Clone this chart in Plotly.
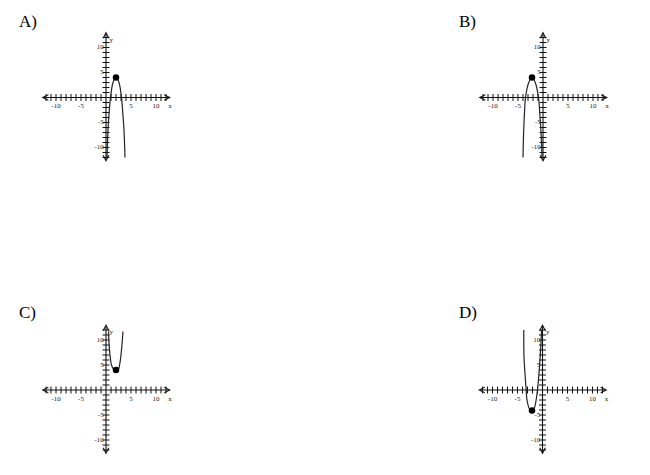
import plotly.graph_objects as go

# ---------------- data ----------------
PANEL_LABELS = ["A)", "B)", "C)", "D)"]

AXIS_TICKS = [-12, -11, -10, -9, -8, -7, -6, -5, -4, -3, -2, -1,
              1, 2, 3, 4, 5, 6, 7, 8, 9, 10, 11, 12]
TICK_LABEL_VALUES = [-10, -5, 5, 10]
TICK_LABEL_TEXT = ["-10", "-5", "5", "10"]

A_X = [0.2, 0.3, 0.45, 0.9, 1.4, 2.0, 2.6, 3.1, 3.35, 3.6, 3.8]
A_Y = [-12, -9, -5.5, 0, 3, 4, 3, 0, -3, -6.5, -12]
A_VERTEX = [2, 4]

B_X = [-4.0, -3.9, -3.75, -3.5, -2.85, -2.2, -1.55, -0.9, -0.65, -0.45, -0.3, -0.2]
B_Y = [-12, -7.7, -4, 0, 3, 4, 3, 0, -3, -6, -9, -12]
B_VERTEX = [-2.2, 4]

C_X = [0.5, 0.6, 0.8, 1.1, 1.5, 2.0, 2.5, 2.8, 3.1, 3.4]
C_Y = [11.7, 9.5, 7, 5, 4.2, 4, 4.2, 5.5, 8, 11.7]
C_VERTEX = [2, 4]

D_X = [-3.75, -3.7, -3.55, -3.3, -3.1, -2.6, -2.1, -1.6, -1.2, -1.0, -0.6, -0.35, -0.2]
D_Y = [12, 6.5, 4, 0.5, -2, -3.8, -4.1, -3.5, -1.5, 0, 4.7, 8.5, 12]
D_VERTEX = [-2.1, -4.1]

CURVES = [(A_X, A_Y, A_VERTEX), (B_X, B_Y, B_VERTEX),
          (C_X, C_Y, C_VERTEX), (D_X, D_Y, D_VERTEX)]

# ---------------- layout constants ----------------
W, H = 650, 475
PX_PER_UNIT = 5.0
HALF = 14  # axis range half-width in units
# origin pixel positions (x, y from top) of each panel
ORIGINS = [(106, 97.5), (543, 97.5), (106, 390), (542.5, 390)]
LABEL_POS = [(17, 21), (457, 21), (17, 312), (457, 312)]

INK = "#111111"
LABEL_INK = "#222222"
SERIF = "Liberation Serif, Times New Roman, serif"

fig = go.Figure()
layout = dict(width=W, height=H, margin=dict(l=0, r=0, t=0, b=0),
              paper_bgcolor="white", plot_bgcolor="white",
              showlegend=False, annotations=[])

for i, (ox, oy) in enumerate(ORIGINS):
    n = "" if i == 0 else str(i + 1)
    half_px = HALF * PX_PER_UNIT
    layout["xaxis" + n] = dict(domain=[(ox - half_px) / W, (ox + half_px) / W],
                               range=[-HALF, HALF], visible=False, fixedrange=True,
                               anchor="y" + n)
    layout["yaxis" + n] = dict(domain=[1 - (oy + half_px) / H, 1 - (oy - half_px) / H],
                               range=[-HALF, HALF], visible=False, fixedrange=True,
                               anchor="x" + n)
    xr, yr = "x" + n, "y" + n

    # axes with arrowheads at both ends
    layout["annotations"].append(dict(
        x=13.0, y=0, ax=-13.2, ay=0, xref=xr, yref=yr, axref=xr, ayref=yr,
        text="", showarrow=True, arrowside="end+start", arrowhead=5,
        startarrowhead=5, arrowsize=1, startarrowsize=1, arrowwidth=1.1,
        arrowcolor=INK, standoff=0, startstandoff=0))
    layout["annotations"].append(dict(
        x=0, y=13.2, ax=0, ay=-13.2, xref=xr, yref=yr, axref=xr, ayref=yr,
        text="", showarrow=True, arrowside="end+start", arrowhead=5,
        startarrowhead=5, arrowsize=1, startarrowsize=1, arrowwidth=1.1,
        arrowcolor=INK, standoff=0, startstandoff=0))

    # tick marks
    fig.add_trace(go.Scatter(x=AXIS_TICKS, y=[0] * len(AXIS_TICKS), mode="markers",
                             marker=dict(symbol="line-ns", size=5,
                                         line=dict(width=1, color=INK)),
                             xaxis=xr, yaxis=yr, hoverinfo="skip"))
    fig.add_trace(go.Scatter(x=[0] * len(AXIS_TICKS), y=AXIS_TICKS, mode="markers",
                             marker=dict(symbol="line-ew", size=5,
                                         line=dict(width=1, color=INK)),
                             xaxis=xr, yaxis=yr, hoverinfo="skip"))

    # tick labels
    fig.add_trace(go.Scatter(x=TICK_LABEL_VALUES, y=[-1.75] * 4, mode="text",
                             text=TICK_LABEL_TEXT, textposition="middle center",
                             textfont=dict(family=SERIF, size=7, color=LABEL_INK),
                             xaxis=xr, yaxis=yr, hoverinfo="skip"))
    fig.add_trace(go.Scatter(x=[-0.45] * 4, y=TICK_LABEL_VALUES, mode="text",
                             text=TICK_LABEL_TEXT, textposition="middle left",
                             textfont=dict(family=SERIF, size=7, color=LABEL_INK),
                             xaxis=xr, yaxis=yr, hoverinfo="skip"))
    # axis names
    fig.add_trace(go.Scatter(x=[12.8, 1.05], y=[-1.75, 11.5], mode="text",
                             text=["x", "y"], textposition="middle center",
                             textfont=dict(family=SERIF, size=7, color=LABEL_INK),
                             xaxis=xr, yaxis=yr, hoverinfo="skip"))

    # curve and vertex
    cx, cy, vtx = CURVES[i]
    fig.add_trace(go.Scatter(x=cx, y=cy, mode="lines",
                             line=dict(color="#222222", width=1.2, shape="spline",
                                       smoothing=0.8),
                             xaxis=xr, yaxis=yr, hoverinfo="skip"))
    fig.add_trace(go.Scatter(x=[vtx[0]], y=[vtx[1]], mode="markers",
                             marker=dict(symbol="circle", size=6.5, color="black"),
                             xaxis=xr, yaxis=yr, hoverinfo="skip"))

    # panel letter
    lx, ly = LABEL_POS[i]
    layout["annotations"].append(dict(
        x=lx / W, y=1 - ly / H, xref="paper", yref="paper", xanchor="left",
        yanchor="middle", text=PANEL_LABELS[i], showarrow=False,
        font=dict(family=SERIF, size=17, color="black")))

fig.update_layout(**layout)
fig.write_html("out.html", config={"displayModeBar": False},
               post_script="document.body.style.margin='0';document.body.style.padding='0';")
